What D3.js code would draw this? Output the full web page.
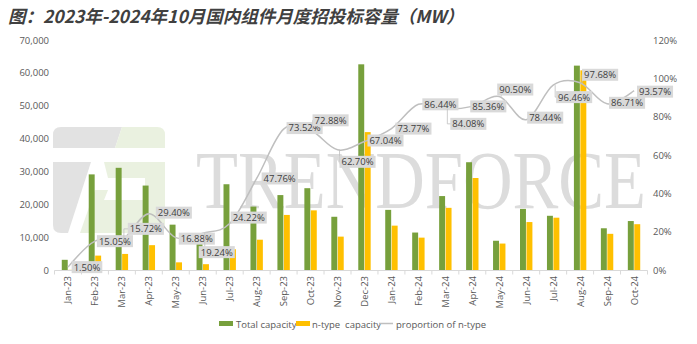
<!DOCTYPE html>
<html>
<head>
<meta charset="utf-8">
<script src="https://cdn.jsdelivr.net/npm/d3@7/dist/d3.min.js"></script>
<style>
  html, body { margin: 0; padding: 0; background: #fff; }
  svg { display: block; }
</style>
</head>
<body>
<svg id="chart" width="697" height="344"></svg>
<script>
// ---- data ----
const months = ["Jan-23","Feb-23","Mar-23","Apr-23","May-23","Jun-23","Jul-23","Aug-23","Sep-23","Oct-23","Nov-23","Dec-23",
                "Jan-24","Feb-24","Mar-24","Apr-24","May-24","Jun-24","Jul-24","Aug-24","Sep-24","Oct-24"];
const totalCapacity = [3100, 29100, 31100, 25700, 13800, 9200, 26100, 19300, 22800, 24900, 16200, 62600,
                       18300, 11400, 22500, 32800, 8900, 18600, 16500, 62200, 12700, 14900];
const ntypeCapacity = [47, 4380, 4890, 7560, 2330, 1770, 6320, 9220, 16760, 18150, 10160, 41970,
                       13500, 9850, 18920, 28000, 8050, 14590, 15920, 60760, 11010, 13940];
const proportion = [1.50, 15.05, 15.72, 29.40, 16.88, 19.24, 24.22, 47.76, 73.52, 72.88, 62.70, 67.04,
                    73.77, 86.44, 84.08, 85.36, 90.50, 78.44, 96.46, 97.68, 86.71, 93.57];
const leftTicks = [0, 10000, 20000, 30000, 40000, 50000, 60000, 70000];
const rightTicks = [0, 0.2, 0.4, 0.6, 0.8, 1.0, 1.2];
const seriesNames = ["Total capacity", "n-type  capacity", "proportion of n-type"];
const titleText = "图：2023年-2024年10月国内组件月度招投标容量（MW）";

// ---- layout (label nudges relative to each point: center dx, dy) ----
const labelNudge = [[19,0],[20,0],[24,-11],[25,-1],[21,1],[14,19],[19,-6],[23,0],[21,-1],[20,-10],[20,12],[21,-1],
                    [22,0],[22,0],[23,15],[16,0],[16,-7],[19,-2],[21,12],[20,-8],[20,-1],[21,1]];

const colors = { total: "#77a03c", ntype: "#ffc000", line: "#bfbfbf", text: "#595959" };
const svg = d3.select("#chart");
const font = "'Open Sans', 'Noto Sans', sans-serif";

const x = d3.scaleBand().domain(months).range([54.5, 647.5]).padding(0);
const yL = d3.scaleLinear().domain([0, 70000]).range([270, 40]);
const yR = d3.scaleLinear().domain([0, 1.2]).range([270, 40]);
const sub = d3.scaleBand().domain(["total", "ntype"]).range([-6.2, 6.2]).paddingInner(0.08);

// ---- title ----
svg.append("text").attr("x", 8).attr("y", 23)
  .attr("font-family", "'Noto Sans CJK SC', sans-serif")
  .attr("font-size", 17.5).attr("font-weight", "bold").attr("font-style", "italic")
  .attr("fill", "#404040").text(titleText);

// ---- watermark ----
const wm = svg.append("g").attr("opacity", 0.75);
wm.append("path").attr("fill", "#d9d9d9")
  .attr("d", "M61,127 L122,127 L115,148 L53,148 L53,135 Q53,127 61,127 Z");
wm.append("path").attr("fill", "#e3edd6")
  .attr("d", "M122,127 L157,127 Q165,127 165,135 L165,148 L115,148 Z");
wm.append("path").attr("fill", "#d9d9d9")
  .attr("d", "M53,162 L91,162 L68,233 L61,233 Q53,233 53,225 Z");
wm.append("path").attr("fill", "#e3edd6")
  .attr("d", "M104,162 L165,162 L165,225 Q165,233 157,233 L80,233 L95,190 L108,190 L104,200 L145,200 L145,178 L108,178 Z");
svg.append("text").attr("x", 196).attr("y", 208)
  .attr("font-family", "'Liberation Serif', 'DejaVu Serif', serif")
  .attr("font-size", 83).attr("fill", "#d4d4d4").attr("opacity", 0.8)
  .attr("textLength", 450).attr("lengthAdjust", "spacingAndGlyphs")
  .text("TRENDFORCE");

// ---- axes ----
const axL = svg.append("g").attr("transform", "translate(49,0)")
  .call(d3.axisLeft(yL).tickValues(leftTicks).tickSize(0).tickPadding(0).tickFormat(d3.format(",")));
axL.select(".domain").remove();
axL.selectAll("text").attr("font-family", font).attr("font-size", 9.5).attr("fill", colors.text);

const axR = svg.append("g").attr("transform", "translate(653,0)")
  .call(d3.axisRight(yR).tickValues(rightTicks).tickSize(0).tickPadding(0).tickFormat(d3.format(".0%")));
axR.select(".domain").remove();
axR.selectAll("text").attr("font-family", font).attr("font-size", 9.5).attr("fill", colors.text);

// x axis line and boundary ticks
svg.append("line").attr("x1", x.range()[0]).attr("x2", x.range()[1]).attr("y1", 270.5).attr("y2", 270.5)
  .attr("stroke", "#d9d9d9").attr("stroke-width", 1);
svg.append("g").selectAll("line").data(months.concat(["end"])).join("line")
  .attr("x1", (d, i) => x.range()[0] + i * x.step()).attr("x2", (d, i) => x.range()[0] + i * x.step())
  .attr("y1", 270.5).attr("y2", 274.5).attr("stroke", "#d9d9d9");
svg.append("g").selectAll("text").data(months).join("text")
  .attr("transform", d => `translate(${x(d) + x.bandwidth() / 2 + 3.5},276) rotate(-90)`)
  .attr("text-anchor", "end").attr("font-family", font).attr("font-size", 9.5).attr("fill", colors.text)
  .text(d => d);

// ---- bars ----
const barData = months.map((m, i) => ({ m, total: totalCapacity[i], ntype: ntypeCapacity[i] }));
const gBars = svg.append("g");
["total", "ntype"].forEach(k => {
  gBars.selectAll("rect." + k).data(barData).join("rect").attr("class", k)
    .attr("x", d => x(d.m) + x.bandwidth() / 2 + sub(k))
    .attr("width", sub.bandwidth())
    .attr("y", d => yL(d[k]))
    .attr("height", d => yL(0) - yL(d[k]))
    .attr("fill", colors[k]);
});

// ---- line ----
const pts = months.map((m, i) => [x(m) + x.bandwidth() / 2, yR(proportion[i] / 100)]);
svg.append("path").datum(pts)
  .attr("d", d3.line().curve(d3.curveCatmullRom.alpha(0)))
  .attr("fill", "none").attr("stroke", colors.line).attr("stroke-width", 1.5);

// ---- data labels ----
const gLab = svg.append("g");
pts.forEach((p, i) => {
  const [dx, dy] = labelNudge[i];
  const cx = p[0] + dx, cy = p[1] + dy;
  if (Math.abs(dy) > 5) {
    gLab.append("polyline")
      .attr("points", `${p[0] + 2},${p[1]} ${p[0] + 2},${cy} ${cx - 14},${cy}`)
      .attr("fill", "none").attr("stroke", "#bfbfbf").attr("stroke-width", 0.8);
  }
  const g = gLab.append("g");
  const t = g.append("text").attr("x", cx).attr("y", cy + 3.4).attr("text-anchor", "middle")
    .attr("font-family", font).attr("font-size", 9.5).attr("fill", "#404040")
    .text(d3.format(".2f")(proportion[i]) + "%");
  const w = t.node().getComputedTextLength() + 4;
  g.insert("rect", "text").attr("x", cx - w / 2).attr("y", cy - 6).attr("width", w).attr("height", 12)
    .attr("fill", "#d9d9d9");
});

// ---- legend ----
const lg = svg.append("g").attr("font-family", font).attr("font-size", 9.5).attr("fill", colors.text);
lg.append("rect").attr("x", 219).attr("y", 321).attr("width", 14).attr("height", 5).attr("fill", colors.total);
lg.append("text").attr("x", 236).attr("y", 327.5).text(seriesNames[0]);
lg.append("rect").attr("x", 296).attr("y", 321).attr("width", 14).attr("height", 5).attr("fill", colors.ntype);
lg.append("text").attr("x", 312).attr("y", 327.5).attr("xml:space", "preserve").style("white-space", "pre").text(seriesNames[1]);
lg.append("line").attr("x1", 379).attr("x2", 393).attr("y1", 323.5).attr("y2", 323.5).attr("stroke", colors.line).attr("stroke-width", 1.5);
lg.append("text").attr("x", 396).attr("y", 327.5).text(seriesNames[2]);
</script>
</body>
</html>
